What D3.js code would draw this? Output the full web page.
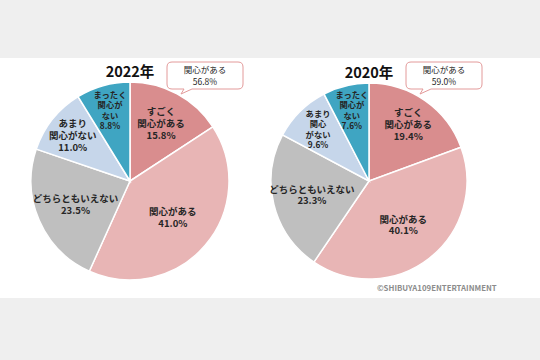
<!DOCTYPE html>
<html>
<head>
<meta charset="utf-8">
<script src="https://cdn.jsdelivr.net/npm/d3@7"></script>
<style>
  body { margin: 0; background: #efefef; }
  svg { display: block; }
  text { font-family: "Noto Sans CJK JP", "Noto Sans", sans-serif; }
</style>
</head>
<body>
<svg id="chart"></svg>
<script>
// canvas
var svgWidth = 540;
var svgHeight = 360;

// categories, in drawing order (clockwise from 12 o'clock)
var categories = ["すごく関心がある", "関心がある", "どちらともいえない", "あまり関心がない", "まったく関心がない"];
var colors = ["#d98d8e", "#e8b5b5", "#bfbfbf", "#c6d6ea", "#3fa5c2"];

// label lines shown inside each slice (per chart, since line breaks differ)
var labels2022 = [["すごく", "関心がある"], ["関心がある"], ["どちらともいえない"], ["あまり", "関心がない"], ["まったく", "関心が", "ない"]];
var labels2020 = [["すごく", "関心がある"], ["関心がある"], ["どちらともいえない"], ["あまり", "関心", "がない"], ["まったく", "関心が", "ない"]];

// values (%)
var values2022 = [15.8, 41.0, 23.5, 11.0, 8.8];
var values2020 = [19.4, 40.1, 23.3, 9.6, 7.6];

// callout totals
var total2022 = "56.8%";
var total2020 = "59.0%";

var svg = d3.select("#chart")
  .attr("width", svgWidth)
  .attr("height", svgHeight);

// white panel
svg.append("rect")
  .attr("x", 0)
  .attr("y", 58)
  .attr("width", svgWidth)
  .attr("height", 240)
  .attr("fill", "#ffffff");

function drawPie(cx, cy, r, values, lines, title, total) {
  var g = svg.append("g")
    .attr("transform", `translate(${cx}, ${cy})`);

  var pie = d3.pie().sort(null).value(d => d);
  var arcs = pie(values);

  var arc = d3.arc().innerRadius(0).outerRadius(r);

  g.selectAll("path.slice")
    .data(arcs)
    .enter()
    .append("path")
    .attr("class", "slice")
    .attr("d", arc)
    .attr("fill", (d, i) => colors[i])
    .attr("stroke", "#ffffff")
    .attr("stroke-width", 1.5);

  // label position: small slices pushed further out
  function labelPos(d) {
    var k = d.value < 12 ? 0.74 : (d.value > 30 ? 0.57 : 0.6);
    if (d.index === 0) k = d.value > 18 ? 0.7 : 0.66;
    var la = d3.arc().innerRadius(r * k).outerRadius(r * k);
    return la.centroid(d);
  }

  arcs.forEach((d, i) => {
    var p = labelPos(d);
    var small = d.value < 10;
    var fs = small ? 8.3 : 9.5;
    var lineH = small ? 10.3 : 11.8;
    var txt = lines[i].concat([d.value.toFixed(1) + "%"]);
    var t = g.append("text")
      .attr("text-anchor", "middle")
      .attr("font-size", fs)
      .attr("font-weight", "bold")
      .attr("fill", "#262626");
    txt.forEach((s, j) => {
      t.append("tspan")
        .attr("x", p[0])
        .attr("y", p[1] + (j - (txt.length - 1) / 2) * lineH + fs * 0.36)
        .text(s);
    });
  });

  // year title
  svg.append("text")
    .attr("x", cx)
    .attr("y", cy - r - 5.5)
    .attr("text-anchor", "middle")
    .attr("font-size", 14.5)
    .attr("font-weight", "bold")
    .attr("fill", "#111")
    .text(title);

  // callout box with tail
  var bx = cx + 37, by = 62, bw = 76, bh = 27, rr = 5;
  var tx = bx + 14;
  var path = `M${bx + rr},${by} H${bx + bw - rr} Q${bx + bw},${by} ${bx + bw},${by + rr}` +
    ` V${by + bh - rr} Q${bx + bw},${by + bh} ${bx + bw - rr},${by + bh}` +
    ` H${tx + 11} L${tx},${by + bh + 5} L${tx + 3},${by + bh}` +
    ` H${bx + rr} Q${bx},${by + bh} ${bx},${by + bh - rr} V${by + rr} Q${bx},${by} ${bx + rr},${by} Z`;
  svg.append("path")
    .attr("d", path)
    .attr("fill", "#ffffff")
    .attr("stroke", "#e39a9a")
    .attr("stroke-width", 1);

  var ct = svg.append("text")
    .attr("text-anchor", "middle")
    .attr("font-size", 8.5)
    .attr("fill", "#262626");
  ct.append("tspan").attr("x", bx + bw / 2).attr("y", by + 11).text("関心がある");
  ct.append("tspan").attr("x", bx + bw / 2).attr("y", by + 23).text(total);
}

drawPie(130, 181, 99, values2022, labels2022, "2022年", total2022);
drawPie(369, 181, 98, values2020, labels2020, "2020年", total2020);

// credit
svg.append("text")
  .attr("x", 377)
  .attr("y", 291)
  .attr("font-size", 7.8)
  .attr("font-weight", "bold")
  .attr("fill", "#8c8c8c")
  .attr("font-family", "'Liberation Sans', Arial, sans-serif")
  .text("©SHIBUYA109ENTERTAINMENT");
</script>
</body>
</html>
